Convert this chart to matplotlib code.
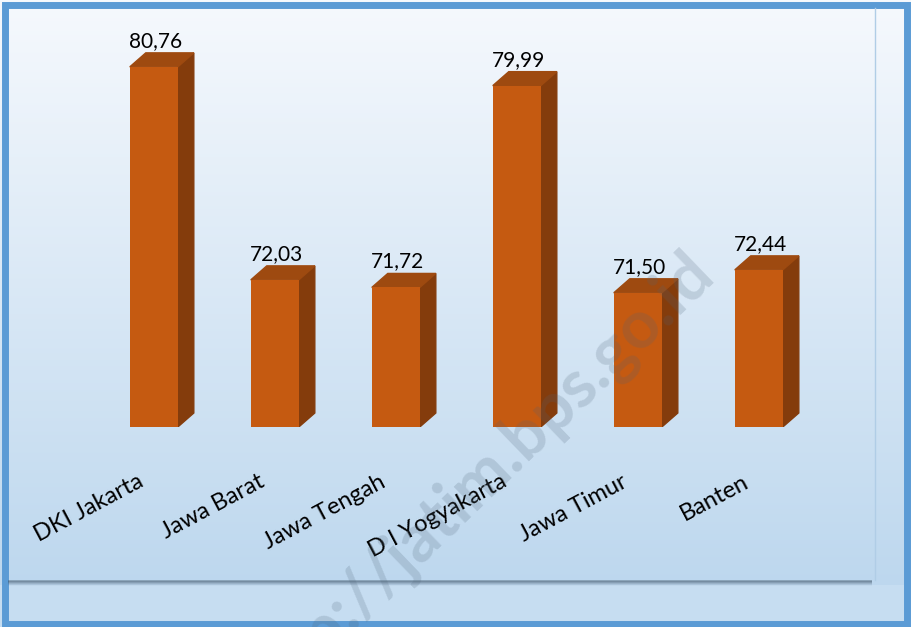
import matplotlib
matplotlib.use("Agg")
import matplotlib.pyplot as plt
import numpy as np
from matplotlib.patches import Polygon, Rectangle

plt.rcParams['font.family'] = ['Lato', 'DejaVu Sans']

provinces = ["DKI Jakarta", "Jawa Barat", "Jawa Tengah", "D I Yogyakarta", "Jawa Timur", "Banten"]
values = [80.76, 72.03, 71.72, 79.99, 71.50, 72.44]
value_labels = ["80,76", "72,03", "71,72", "79,99", "71,50", "72,44"]

W, H = 912, 627
fig = plt.figure(figsize=(W / 100, H / 100), dpi=100)

# background gradient
bg = fig.add_axes([0, 0, 1, 1], zorder=-10)
top_c = np.array([0xF6, 0xF9, 0xFD]) / 255
bot_c = np.array([0xB9, 0xD5, 0xED]) / 255
low_c = np.array([0xC6, 0xDD, 0xF1]) / 255
t = np.linspace(0, 1, H)[:, None]
grad = top_c * (1 - t) + bot_c * t
grad[585:] = low_c
img = np.repeat(grad[:, None, :], W, axis=1)
bg.imshow(img, aspect='auto', extent=(0, W, H, 0))
bg.set_xlim(0, W)
bg.set_ylim(H, 0)
bg.axis('off')
# panel shadow
for k, a in enumerate([0.45, 0.35, 0.22, 0.12, 0.05]):
    bg.plot([8, 872], [581 + k, 581 + k], color='#3d5266', alpha=a, lw=1.2,
            solid_capstyle='butt')
bg.plot([875, 875], [8, 580], color='#b0cde6', lw=1)
# blue frame
bg.add_patch(Rectangle((5.5, 5), W - 10, H - 8, fill=False, ec='#5B9BD5', lw=5))

# main chart
x = np.arange(len(values))
ymin, ymax = 66, 83
ax = fig.add_axes([57 / W, (H - 427) / H, 798.6 / W, 414.8 / H])
ax.set_xlim(-0.8, 5.8)
ax.set_ylim(ymin, ymax)
ax.axis('off')

bw = 0.397
ppx = ax.get_position().width * W / 6.6
ppy = ax.get_position().height * H / (ymax - ymin)
dx, dy = 16 / ppx, 14 / ppy

front = '#C55A11'
side = '#843C0C'
topc = '#9E4A10'

ax.bar(x, np.array(values) - ymin, bottom=ymin, width=bw, color=front, zorder=3)
for xi, v, lab, name in zip(x, values, value_labels, provinces):
    xr = xi + bw / 2
    xl = xi - bw / 2
    ax.add_patch(Polygon([(xr, ymin), (xr, v), (xr + dx, v + dy), (xr + dx, ymin + dy)],
                         closed=True, color=side, zorder=2))
    ax.add_patch(Polygon([(xl, v), (xr, v), (xr + dx, v + dy), (xl + dx, v + dy)],
                         closed=True, color=topc, zorder=2))
    ax.annotate(lab, xy=(xi, v + dy), xytext=(2, 2), textcoords='offset pixels',
                ha='center', va='bottom', fontsize=15, color='black')
    ax.annotate(name, xy=(xi, ymin), xytext=(-9, -59), textcoords='offset pixels',
                ha='right', va='baseline', rotation=28, rotation_mode='anchor',
                fontsize=17, color='black', annotation_clip=False)

# watermark
fig.text(0.522, 0.230, "http://jatim.bps.go.id", rotation=44, ha='center', va='center',
         fontsize=48, weight='bold', color='#4f6478', alpha=0.2)

fig.savefig("out.png", dpi=100)
